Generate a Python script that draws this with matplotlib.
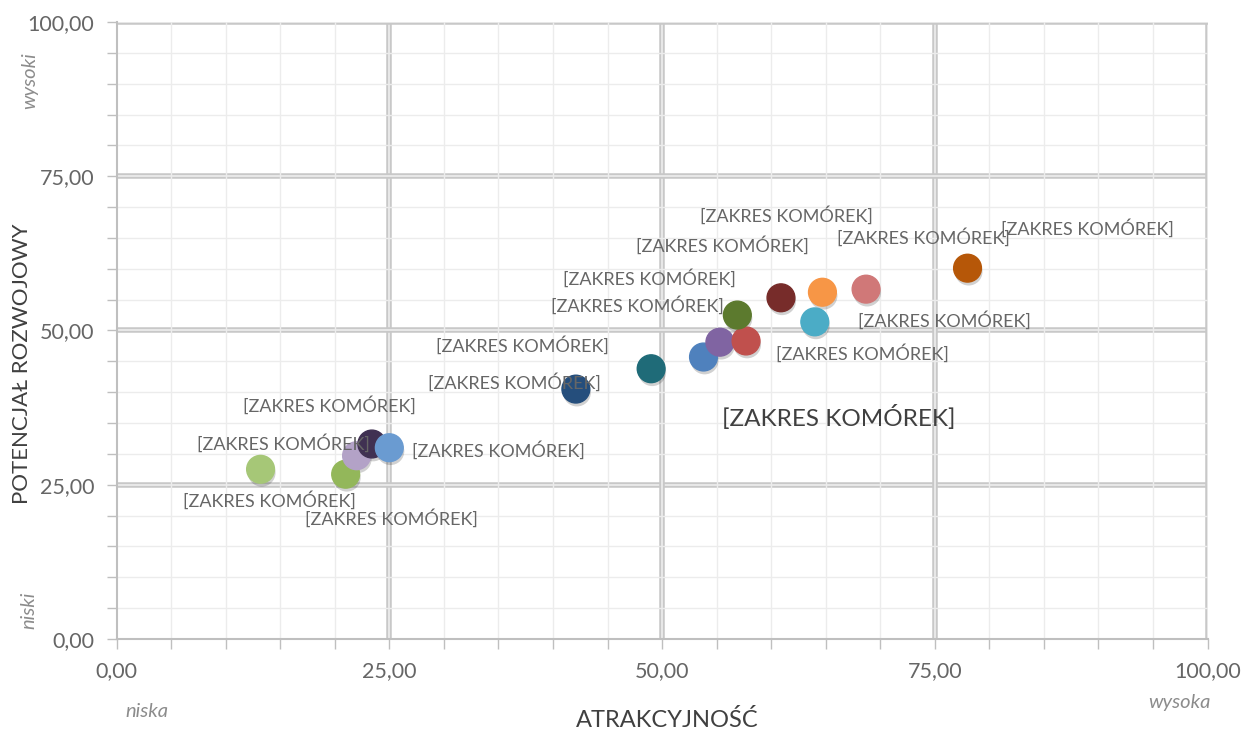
import matplotlib.pyplot as plt
import matplotlib.patheffects as pe
from matplotlib.ticker import MultipleLocator, FuncFormatter

# data
atrakcyjnosc = [13.2, 21.0, 22.0, 23.4, 25.0, 42.1, 49.0, 53.8, 55.3, 57.7, 56.9, 60.9, 64.7, 64.0, 68.7, 78.0]
potencjal = [27.5, 26.7, 29.7, 31.6, 31.0, 40.5, 43.8, 45.7, 48.1, 48.3, 52.5, 55.3, 56.2, 51.4, 56.7, 60.1]
kolory = ['#a6c777', '#93b75a', '#b3a2c7', '#403152', '#6a9bd1', '#254e7c', '#1f6b78', '#4f81bd',
          '#8064a2', '#c0504d', '#5c7a2e', '#772c2a', '#f79646', '#4bacc6', '#d07878', '#b65708']
etykiety = ['[ZAKRES KOMÓREK]'] * 16
# label offsets in pixels from each point
przesuniecia = [(9, -31), (46, -44), (-73, 12), (-42, 39), (109, -3), (-61, 7), (-129, 23), (135, -60),
                (-82, 37), (116, -12), (-88, 37), (-59, 52), (-36, 77), (130, 1), (57, 52), (120, 40)]
glowne = [0, 25, 50, 75, 100]

fig = plt.figure(figsize=(12.44, 7.31), dpi=100)
ax = fig.add_axes([0.0937, 0.1259, 0.8770, 0.8440])
ax.set_xlim(0, 100)
ax.set_ylim(0, 100)

grey = '#666666'
ax.xaxis.set_major_locator(MultipleLocator(25))
ax.yaxis.set_major_locator(MultipleLocator(25))
ax.xaxis.set_minor_locator(MultipleLocator(5))
ax.yaxis.set_minor_locator(MultipleLocator(5))
fmt = FuncFormatter(lambda v, p: f"{v:.2f}".replace('.', ','))
ax.xaxis.set_major_formatter(fmt)
ax.yaxis.set_major_formatter(fmt)
ax.tick_params(which='both', direction='out', length=7, color='#bfbfbf', width=1)
ax.tick_params(which='major', labelsize=15.5, labelcolor=grey, pad=9)
for lab in ax.get_xticklabels() + ax.get_yticklabels():
    lab.set_fontfamily('Lato')

ax.grid(which='minor', color='#ececec', lw=1, zorder=0)
for v in glowne[1:]:
    ax.axvline(v, color='#c8c8c8', lw=4, zorder=1)
    ax.axvline(v, color='#eeeeee', lw=1.2, zorder=1)
    ax.axhline(v, color='#c8c8c8', lw=4, zorder=1)
    ax.axhline(v, color='#eeeeee', lw=1.2, zorder=1)
for s in ['top', 'right']:
    ax.spines[s].set_visible(False)
for s in ['left', 'bottom']:
    ax.spines[s].set_color('#bfbfbf')
    ax.spines[s].set_linewidth(1.5)

ax.scatter(atrakcyjnosc, potencjal, s=400, c=kolory, zorder=5, clip_on=False,
           path_effects=[pe.SimplePatchShadow(offset=(0.8, -2.5), shadow_rgbFace='#000000', alpha=0.18),
                         pe.Normal()])

for i, (x, y) in enumerate(zip(atrakcyjnosc, potencjal)):
    big = i == 7
    ax.annotate(etykiety[i], (x, y), xytext=przesuniecia[i], textcoords='offset pixels',
                ha='center', va='center', fontsize=17.5 if big else 13,
                color='#404040' if big else grey, family='Lato', zorder=6)

fig.text(0.018, 0.503, 'POTENCJAŁ ROZWOJOWY', rotation=90, ha='center', va='center',
         fontsize=16, color='#404040', family='Lato')
fig.text(0.5362, 0.0, 'ATRAKCYJNOŚĆ', ha='center', va='bottom', fontsize=17, color='#404040',
         family='Lato')
it = dict(fontsize=14.5, color='#8c8c8c', style='italic', family='Lato')
fig.text(0.024, 0.89, 'wysoki', rotation=90, ha='center', va='center', **it)
fig.text(0.023, 0.165, 'niski', rotation=90, ha='center', va='center', **it)
fig.text(0.118, 0.027, 'niska', ha='center', va='center', **it)
fig.text(0.948, 0.039, 'wysoka', ha='center', va='center', **it)

fig.savefig('out.png', dpi=100)
